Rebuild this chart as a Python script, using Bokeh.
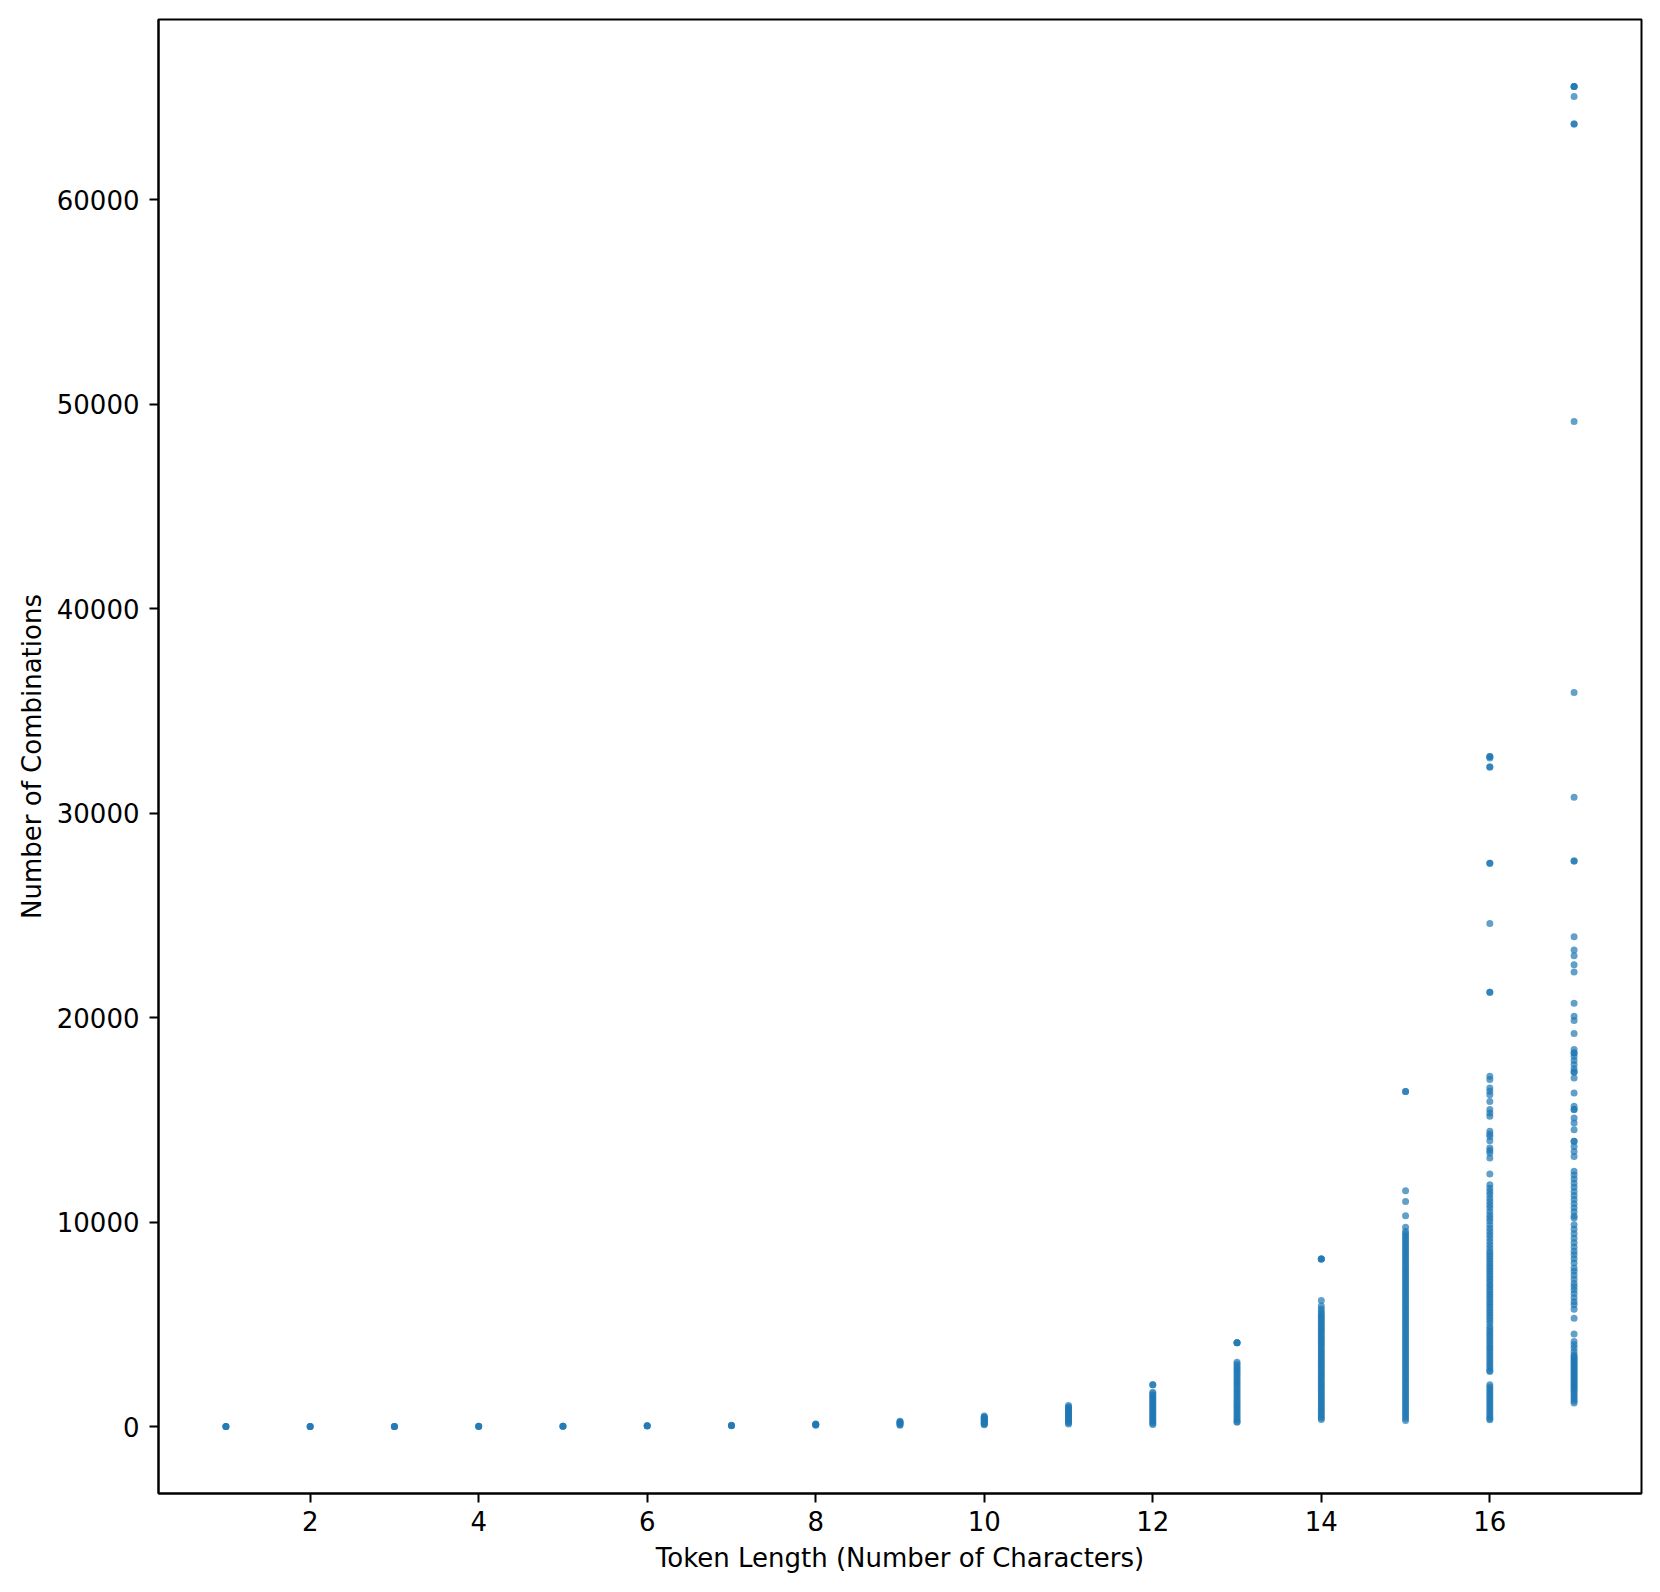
from bokeh.plotting import figure
from bokeh.models import Range1d, FixedTicker, BasicTickFormatter, ColumnDataSource
from bokeh.embed import file_html
from bokeh.resources import INLINE

# Token length (number of characters)
token_lengths = list(range(1, 18))

len_1 = [1, 1, 1]
len_2 = [2, 2, 2]
len_3 = [4, 4, 3]
len_4 = [8, 8, 6]
len_5 = [16, 16, 12]
len_6 = [32, 32, 24]
len_7 = [64, 50, 40]
len_8 = [128, 110, 90, 60]
len_9 = [256, 220, 200, 150, 100, 60]
len_10 = [512, 470, 430, 390, 350, 310, 270, 230, 190, 150, 120, 90]
len_11 = [1024, 960, 900, 840, 780, 720, 660, 600, 540, 480, 420, 360,
          300, 240, 180, 122]
len_12 = [2048, 2040, 1680, 1600, 1520, 1440, 1360, 1280, 1200, 1120, 1040,
          960, 880, 800, 720, 640, 560, 480, 400, 320, 240, 160, 100]
len_13 = [4096, 4096, 4096, 3140, 3040, 2940, 2840, 2740, 2640, 2540, 2440,
          2340, 2240, 2140, 2040, 1940, 1840, 1740, 1640, 1540, 1440, 1340,
          1240, 1140, 1040, 940, 840, 740, 640, 540, 440, 340, 240, 205]
len_14 = [8192, 8192, 8192, 6160, 5900, 5750, 5620, 5520, 5420, 5320, 5220,
          5120, 5020, 4920, 4820, 4720, 4620, 4520, 4420, 4320, 4220, 4120,
          4020, 3920, 3820, 3720, 3620, 3520, 3420, 3320, 3220, 3120, 3020,
          2920, 2820, 2720, 2620, 2520, 2420, 2320, 2220, 2120, 2020, 1920,
          1820, 1720, 1620, 1520, 1420, 1320, 1220, 1120, 1020, 920, 820,
          720, 620, 520, 420, 343]
len_15 = [16384, 16384, 11535, 11010, 10310, 9740, 9540, 9430, 9320, 9210,
          9100, 8990, 8880, 8770, 8660, 8550, 8440, 8330, 8220, 8110, 8000,
          7890, 7780, 7670, 7560, 7450, 7340, 7230, 7120, 7010, 6900, 6790,
          6680, 6570, 6460, 6350, 6240, 6130, 6020, 5910, 5800, 5690, 5580,
          5470, 5360, 5250, 5140, 5030, 4920, 4810, 4700, 4590, 4480, 4370,
          4260, 4150, 4040, 3930, 3820, 3710, 3600, 3490, 3380, 3270, 3160,
          3050, 2940, 2830, 2720, 2610, 2500, 2390, 2280, 2170, 2060, 1950,
          1840, 1730, 1620, 1510, 1400, 1290, 1180, 1070, 960, 850, 740,
          630, 520, 410, 294]
len_16 = [32768, 32768, 32700, 32250, 32250, 27550, 27550, 24600, 21240,
          21240, 17130, 16970, 16560, 16400, 16230, 15900, 15500, 15330,
          15170, 14440, 14300, 14190, 13980, 13620, 13500, 13380, 13130,
          12350, 11830, 11650, 11500, 11350, 11170, 11000, 10850, 10700,
          10520, 10350, 10200, 10050, 9870, 9700, 9540, 9380, 9220, 9050,
          8890, 8730, 8570, 8450, 8330, 8200, 8080, 7950, 7830, 7700, 7580,
          7450, 7330, 7200, 7080, 6950, 6830, 6700, 6580, 6450, 6330, 6200,
          6080, 5950, 5830, 5700, 5580, 5450, 5330, 5200, 5060, 4890, 4770,
          4650, 4530, 4410, 4290, 4170, 4050, 3930, 3830, 3700, 3580, 3460,
          3340, 3220, 3100, 2980, 2860, 2740, 2690, 2040, 1930, 1820, 1710,
          1600, 1490, 1380, 1270, 1160, 1050, 940, 830, 720, 610, 500, 390,
          330]
len_17 = [65536, 65536, 65536, 65050, 63700, 63700, 49150, 35900, 30780,
          27660, 27660, 23950, 23300, 23020, 22580, 22230, 20700, 20070,
          19860, 19220, 18440, 18270, 18270, 18100, 17900, 17700, 17500,
          17340, 17340, 17050, 16310, 15660, 15500, 15500, 15090, 14840,
          14520, 13950, 13950, 13700, 13450, 13210, 12480, 12300, 12100,
          11900, 11700, 11500, 11300, 11100, 10900, 10700, 10500, 10300,
          10200, 9870, 9650, 9430, 9210, 8990, 8780, 8570, 8400, 8200, 8000,
          7750, 7590, 7400, 7200, 7000, 6850, 6690, 6500, 6300, 6100, 5950,
          5740, 5300, 4520, 4160, 4000, 3850, 3670, 3510, 3430, 3350, 3270,
          3190, 3110, 3030, 2950, 2870, 2790, 2710, 2630, 2550, 2470, 2390,
          2310, 2230, 2150, 2070, 1990, 1910, 1830, 1750, 1650, 1550, 1450,
          1350, 1250, 1150]

columns = [len_1, len_2, len_3, len_4, len_5, len_6, len_7, len_8, len_9,
           len_10, len_11, len_12, len_13, len_14, len_15, len_16, len_17]

x_ticks = [2, 4, 6, 8, 10, 12, 14, 16]
y_ticks = [0, 10000, 20000, 30000, 40000, 50000, 60000]

xs, ys = [], []
for n, vals in zip(token_lengths, columns):
    xs.extend([n] * len(vals))
    ys.extend(vals)

source = ColumnDataSource(data=dict(x=xs, y=ys))

xmin, xmax = min(xs), max(xs)
ymin, ymax = min(ys), max(ys)
xpad = 0.05 * (xmax - xmin)
ypad = 0.05 * (ymax - ymin)

p = figure(width=1651, height=1584, output_backend="svg", toolbar_location=None,
           x_range=Range1d(xmin - xpad, xmax + xpad),
           y_range=Range1d(ymin - ypad, ymax + ypad),
           min_border_left=158, min_border_top=19, min_border_right=10,
           min_border_bottom=91)

p.scatter("x", "y", source=source, size=7, fill_color="#1f77b4",
          fill_alpha=0.7, line_color=None)

p.xgrid.visible = False
p.ygrid.visible = False
p.outline_line_color = "black"
p.outline_line_width = 2
p.outline_line_alpha = 1

FONT = "DejaVu Sans"
p.xaxis.axis_label = "Token Length (Number of Characters)"
p.yaxis.axis_label = "Number of Combinations"
p.xaxis.ticker = FixedTicker(ticks=x_ticks)
p.yaxis.ticker = FixedTicker(ticks=y_ticks)
p.yaxis.formatter = BasicTickFormatter(use_scientific=False)

for ax in (p.xaxis[0], p.yaxis[0]):
    ax.axis_line_color = "black"
    ax.axis_line_width = 2
    ax.major_tick_line_color = "black"
    ax.major_tick_line_width = 2
    ax.major_tick_out = 9
    ax.major_tick_in = 0
    ax.minor_tick_out = 0
    ax.minor_tick_in = 0
    ax.major_label_text_font = FONT
    ax.major_label_text_font_size = "26px"
    ax.major_label_text_color = "black"
    ax.axis_label_text_font = FONT
    ax.axis_label_text_font_size = "26px"
    ax.axis_label_text_font_style = "normal"
    ax.axis_label_text_color = "black"

p.yaxis.major_label_standoff = 10
p.xaxis.major_label_standoff = 8
p.yaxis.axis_label_standoff = 7
p.xaxis.axis_label_standoff = 9

open("out.html", "w").write(file_html(p, INLINE))
